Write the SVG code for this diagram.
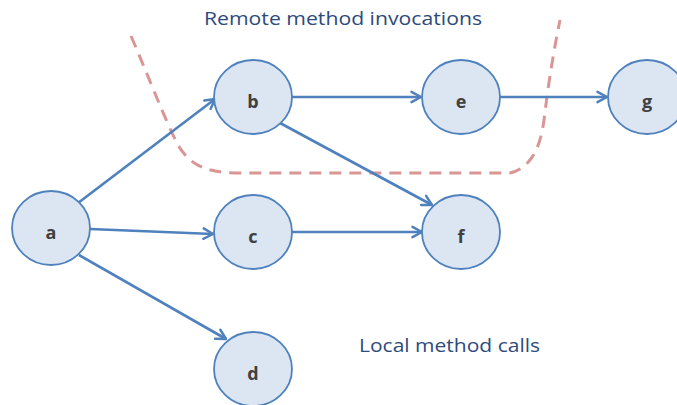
<svg xmlns="http://www.w3.org/2000/svg" width="677" height="405" viewBox="0 0 677 405">
<defs>
<style>
.node ellipse{fill:#dce6f2;stroke:#4f81bd;stroke-width:1.8}
.node text{font-family:"Open Sans","Liberation Sans",sans-serif;font-weight:bold;font-size:18px;fill:#404040;text-anchor:middle}
.edge{stroke:#4f81bd;stroke-width:2.6;fill:none;marker-end:url(#arr)}
.label{font-family:"Open Sans","Liberation Sans",sans-serif;font-size:19px;fill:#2e4a7d}
.boundary{stroke:#d99694;stroke-width:3;fill:none;stroke-dasharray:12 8}
</style>
<marker id="arr" viewBox="0 0 14 14" refX="12" refY="7" markerWidth="14" markerHeight="14" markerUnits="userSpaceOnUse" orient="auto">
<path d="M2.5,1.8 L12,7 L2.5,12.2" fill="none" stroke="#4f81bd" stroke-width="2.5" stroke-linecap="round" stroke-linejoin="round"/>
</marker>
</defs>
<rect width="677" height="405" fill="#ffffff"/>
<path class="boundary" d="M131,36 C150,80 165,120 178,145 C190,165 205,173 240,173 L510,173 C530,168 540,150 544,120 C550,70 556,40 560,20"/>
<g id="connectors">
<line class="edge" x1="78" y1="203" x2="215" y2="99"/>
<line class="edge" x1="90" y1="229" x2="213" y2="234"/>
<line class="edge" x1="79" y1="255" x2="226" y2="339"/>
<line class="edge" x1="292" y1="97" x2="421" y2="97"/>
<line class="edge" x1="280" y1="123" x2="432" y2="205"/>
<line class="edge" x1="292" y1="232" x2="422" y2="232"/>
<line class="edge" x1="499" y1="97" x2="607" y2="97"/>
</g>
<g id="node-a" class="node"><ellipse cx="51" cy="228" rx="39" ry="37"/><text x="51" y="239">a</text></g>
<g id="node-b" class="node"><ellipse cx="253" cy="97" rx="39" ry="37"/><text x="253" y="108">b</text></g>
<g id="node-c" class="node"><ellipse cx="253" cy="232" rx="39" ry="37"/><text x="253" y="243">c</text></g>
<g id="node-d" class="node"><ellipse cx="253" cy="369" rx="39" ry="37"/><text x="253" y="380">d</text></g>
<g id="node-e" class="node"><ellipse cx="461" cy="97" rx="39" ry="37"/><text x="461" y="108">e</text></g>
<g id="node-f" class="node"><ellipse cx="461" cy="232" rx="39" ry="37"/><text x="461" y="243">f</text></g>
<g id="node-g" class="node"><ellipse cx="647" cy="97" rx="39" ry="37"/><text x="647" y="108">g</text></g>
<text class="label" x="204" y="25" textLength="278" lengthAdjust="spacingAndGlyphs">Remote method invocations</text>
<text class="label" x="359" y="352" textLength="181" lengthAdjust="spacingAndGlyphs">Local method calls</text>
</svg>
